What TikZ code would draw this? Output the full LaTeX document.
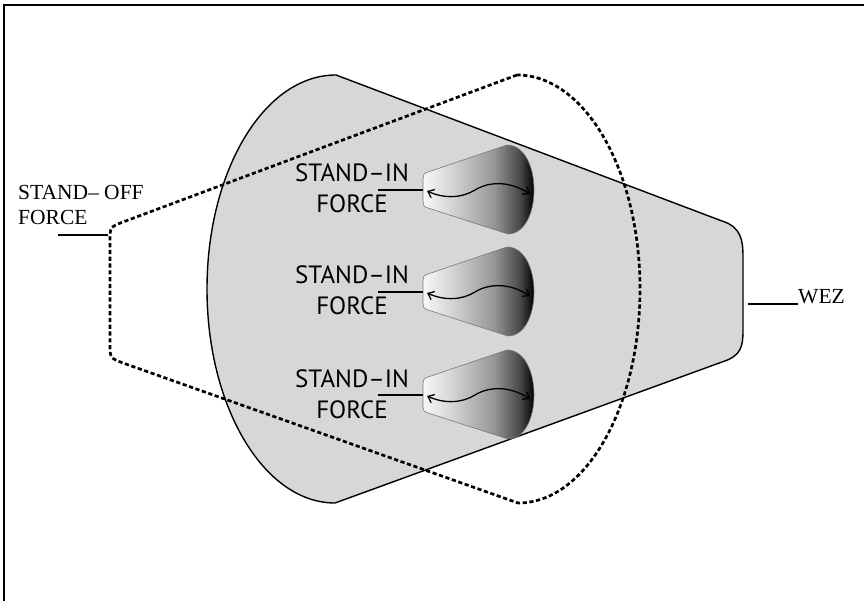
\documentclass[tikz,border=0pt]{standalone}
\usepackage{fontspec}
\setmainfont{Liberation Serif}
\newfontfamily\forcefont{PT Sans}
\usetikzlibrary{arrows.meta}

\definecolor{wezgray}{RGB}{214,215,217}
\definecolor{bulbedge}{RGB}{120,120,120}
\definecolor{bulbA}{RGB}{248,248,248}
\definecolor{bulbB}{RGB}{212,212,212}
\definecolor{bulbC}{RGB}{150,150,150}
\definecolor{bulbD}{RGB}{70,70,70}

% light-to-dark shading of the stand-in force lobes
\pgfdeclarehorizontalshading{bulbshade}{100bp}{color(0bp)=(bulbA); color(25bp)=(bulbA);
  color(38bp)=(bulbB); color(57bp)=(bulbC); color(69bp)=(bulbD); color(75bp)=(black); color(100bp)=(black)}

\tikzset{
  frameline/.style={line width=1.5pt, line cap=rect},
  wezzone/.style={fill=wezgray, draw=black, line width=1.4pt, line join=round},
  standoff/.style={draw=black, line width=2.7pt, dash pattern=on 4.2pt off 2.6pt},
  bulb/.style={shading=bulbshade, draw=bulbedge, line width=0.6pt},
  leader/.style={draw=black, line width=1.1pt},
  swing/.style={draw=black, line width=1.3pt, {Straight Barb[length=5.5pt,width=9pt]}-{Straight Barb[length=5.5pt,width=9pt]}},
  forcelabel/.style={anchor=base, inner sep=0pt, font=\forcefont\fontsize{25}{30}\selectfont},
  seriflabel/.style={anchor=base west, inner sep=0pt, font=\fontsize{21.5}{26}\selectfont},
}

\begin{document}
\begin{tikzpicture}[x=1pt, y=-1pt]
\useasboundingbox (0,0) rectangle (864,601);

% frame
\draw[frameline] (4,601) -- (4,5) -- (864,5);

% weapons engagement zone
\path[wezzone] (336,75) -- (722,221)
  .. controls (741,227) and (743,240) .. (743,257)
  -- (743,330)
  .. controls (743,347) and (741,356) .. (722,362)
  -- (335,503)
  .. controls (264,503) and (207,407) .. (207,289)
  .. controls (207,171) and (264,75) .. (336,75) -- cycle;

% stand-off force area: sharp top and bottom points, rounded left corners
\draw[standoff] (517,75) -- (123,222)
  .. controls (110,227) .. (110,241)
  -- (110,344)
  .. controls (110,358) .. (123,363)
  -- (518,503)
  .. controls (586,503) and (640,407) .. (640,289)
  .. controls (640,171) and (585,75) .. (517,75) -- cycle;

% stand-in forces
\foreach \i/\cy in {1/190,2/292,3/395}{
  \path[bulb] (507,\cy-45) -- (428,\cy-18)
    .. controls (424,\cy-17) and (423,\cy-15) .. (423,\cy-12)
    -- (423,\cy+12)
    .. controls (423,\cy+15) and (424,\cy+17) .. (428,\cy+18)
    -- (508,\cy+44)
    .. controls (524,\cy+44) and (534,\cy+24) .. (534,\cy)
    .. controls (534,\cy-24) and (524,\cy-45) .. (507,\cy-45) -- cycle;
  \coordinate (tip\i) at (423,\cy);
  \coordinate (lead\i) at (378,\cy);
  \coordinate (al\i) at (427,\cy+1);
  \coordinate (ar\i) at (530,\cy+4);
  \draw[leader] (lead\i) -- (tip\i);
  \draw[swing] (al\i) .. controls (445,\cy+9) and (462,\cy+8) .. (475,\cy)
    .. controls (488,\cy-8) and (508,\cy-10) .. (ar\i);
  \node[forcelabel] (sin\i) at (352,\cy-8) {STAND–IN};
  \node[forcelabel] (sfc\i) at (352,\cy+23) {FORCE};
}

% stand-off label
\node[seriflabel] (soff) at (18,200) {STAND– OFF};
\node[seriflabel] (sofc) at (18,225) {FORCE};
\coordinate (soffa) at (58,235);
\coordinate (soffb) at (108,235);
\draw[leader] (soffa) -- (soffb);

% zone label
\node[seriflabel] (wez) at (798,304) {WEZ};
\coordinate (wezedge) at (748,304);
\draw[leader] (wezedge) -- (wez.base west);
\end{tikzpicture}
\end{document}
